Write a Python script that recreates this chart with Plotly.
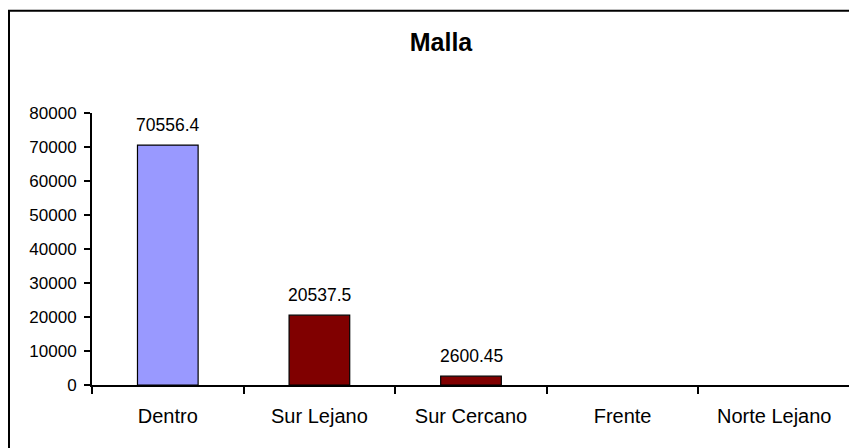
import plotly.graph_objects as go

categories = ["Dentro", "Sur Lejano", "Sur Cercano", "Frente", "Norte Lejano"]
values = [70556.4, 20537.5, 2600.45, None, None]
value_labels = ["70556.4", "20537.5", "2600.45", "", ""]
bar_colors = ["#9999FF", "#800000", "#800000", "#800000", "#800000"]
y_ticks = [0, 10000, 20000, 30000, 40000, 50000, 60000, 70000, 80000]

# page body has an 8px margin, so the figure is drawn 8px in from the window edge
W, H = 849, 440
ml, mr, mt, mb = 84, 7, 105, 63
pw, ph = W - ml - mr, H - mt - mb
FONT = "Liberation Sans, Arial"

fig = go.Figure(go.Bar(
    x=categories, y=values,
    marker=dict(color=bar_colors, line=dict(color="black", width=1.2)),
))

annotations = []
for c, v, t in zip(categories, values, value_labels):
    if v is None or not t:
        continue
    annotations.append(dict(x=c, y=v, xref="x", yref="y", text=t, showarrow=False,
                            yanchor="middle", yshift=20,
                            font=dict(size=17.5, color="black", family=FONT)))

fig.update_layout(
    width=W, height=H,
    margin=dict(l=ml, r=mr, t=mt, b=mb),
    paper_bgcolor="white", plot_bgcolor="white",
    font=dict(family=FONT, size=17, color="black"),
    bargap=0.6,
    showlegend=False,
    title=dict(text="<b>Malla</b>", x=(433 - ml) / pw, xref="paper", xanchor="center",
               y=1 - 34 / H, yanchor="middle", font=dict(size=25)),
    xaxis=dict(showline=True, linecolor="black", linewidth=2, ticks="outside",
               tickson="boundaries", ticklen=7, tickwidth=1.5, tickcolor="black",
               showgrid=False, zeroline=False, ticklabelstandoff=12,
               tickfont=dict(size=20)),
    yaxis=dict(range=[0, 80000], tickvals=y_ticks, ticktext=[str(v) for v in y_ticks],
               showline=True, linecolor="black", linewidth=2, ticks="outside",
               ticklen=6, tickwidth=1.5, tickcolor="black", showgrid=False,
               zeroline=False, ticklabelstandoff=4, tickfont=dict(size=17)),
    annotations=annotations,
    shapes=[dict(type="rect", xref="paper", yref="paper",
                 x0=(1 - ml) / pw, x1=2, y0=-2, y1=1 + (mt - 2.8) / ph,
                 line=dict(color="black", width=2), layer="above")],
)

fig.write_html("out.html")
